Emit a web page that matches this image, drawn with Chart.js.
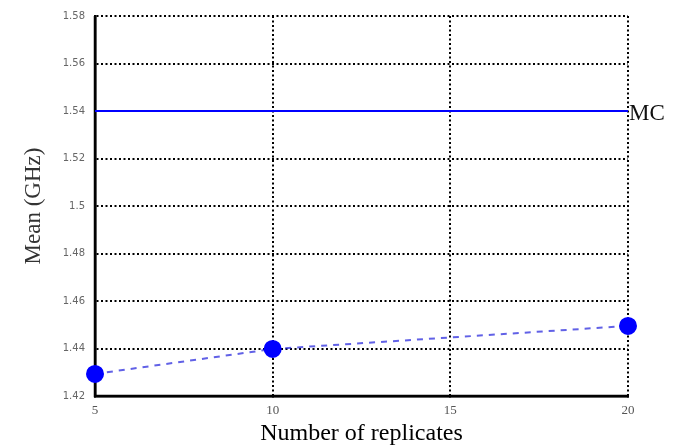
<!DOCTYPE html>
<html>
<head>
<meta charset="utf-8">
<script src="https://cdn.jsdelivr.net/npm/chart.js@4/dist/chart.umd.min.js"></script>
<style>
  html, body { margin: 0; padding: 0; background: #fff; }
  #wrap { width: 681px; height: 448px; }
</style>
</head>
<body>
<div id="wrap"><canvas id="meanChart"></canvas></div>
<script>
// data
var replicates = [5, 10, 20];
var meanGHz = [1.4293, 1.4398, 1.4495];
var mcValue = 1.54;
var mcLabel = 'MC';
var xRange = [5, 20];
var yRange = [1.42, 1.58];

Chart.defaults.font.family = "'Liberation Serif', serif";

// "MC" label right of the reference line
var mcLabelPlugin = {
    id: 'mcLabel',
    afterDraw: function (chart) {
        var ctx = chart.ctx;
        var y = chart.scales.y.getPixelForValue(mcValue);
        ctx.save();
        ctx.font = "23px 'Liberation Serif', serif";
        ctx.fillStyle = '#111';
        ctx.textAlign = 'left';
        ctx.textBaseline = 'middle';
        ctx.fillText(mcLabel, chart.chartArea.right + 1, y + 3);
        ctx.restore();
    }
};

// solid left and bottom axis lines (gridlines are dotted)
var solidAxesPlugin = {
    id: 'solidAxes',
    beforeDatasetsDraw: function (chart) {
        var a = chart.chartArea, ctx = chart.ctx;
        ctx.save();
        ctx.strokeStyle = '#000';
        ctx.lineWidth = 2.5;
        ctx.beginPath();
        ctx.moveTo(a.left, a.top);
        ctx.lineTo(a.left, a.bottom);
        ctx.lineTo(a.right, a.bottom);
        ctx.stroke();
        ctx.restore();
    }
};

var gridDotted = { color: '#000', lineWidth: 2, tickLength: 0 };
var borderDotted = { display: true, color: '#000', width: 2.5, dash: [2, 2.5] };

new Chart(document.getElementById('meanChart').getContext('2d'), {
    type: 'scatter',
    data: {
        datasets: [
            {
                label: 'MC',
                data: xRange.map(function (x) { return { x: x, y: mcValue }; }),
                showLine: true, borderColor: '#0000ff', borderWidth: 2,
                pointRadius: 0, order: 2
            },
            {
                label: 'Mean',
                data: replicates.map(function (r, i) { return { x: r, y: meanGHz[i] }; }),
                showLine: true, borderColor: 'rgba(30, 30, 220, 0.7)', borderWidth: 2,
                borderDash: [6, 6], clip: false,
                pointRadius: 8, pointBackgroundColor: '#0000ff', pointBorderColor: '#0000ff',
                order: 1
            }
        ]
    },
    options: {
        responsive: true, maintainAspectRatio: false, animation: false,
        layout: { padding: { top: 16, right: 53, left: 0, bottom: 0 } },
        plugins: { legend: { display: false }, tooltip: { enabled: false } },
        scales: {
            x: {
                type: 'linear', min: xRange[0], max: xRange[1],
                ticks: { stepSize: 5, color: '#555', padding: 7, font: { size: 13 } },
                grid: gridDotted,
                border: borderDotted,
                title: { display: true, text: 'Number of replicates', color: '#000', font: { size: 24 }, padding: { top: -4, bottom: 0 } },
                afterFit: function (s) { s.height = 52; }
            },
            y: {
                min: yRange[0], max: yRange[1],
                ticks: {
                    stepSize: 0.02, color: '#666', padding: 10, font: { size: 10, family: "'DejaVu Sans', sans-serif" },
                    callback: function (v) { return String(+v.toFixed(2)); }
                },
                grid: gridDotted,
                border: borderDotted,
                title: { display: true, text: 'Mean (GHz)', color: '#333', font: { size: 23 }, padding: { top: 20, bottom: 0 } },
                afterFit: function (s) { s.width = 95; }
            }
        }
    },
    plugins: [mcLabelPlugin, solidAxesPlugin]
});
</script>
</body>
</html>
